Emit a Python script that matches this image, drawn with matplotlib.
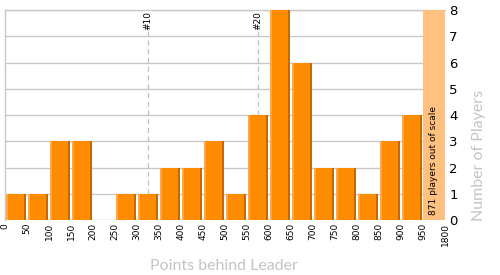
import numpy as np
import matplotlib.pyplot as plt

# bins of 50 points behind the leader, last slot is the out-of-scale bin
edge_labels = ["0", "50", "100", "150", "200", "250", "300", "350", "400", "450",
               "500", "550", "600", "650", "700", "750", "800", "850", "900", "950", "1800"]
counts = [1, 1, 3, 3, 0, 1, 1, 2, 2, 3, 1, 4, 8, 6, 2, 2, 1, 3, 4]
out_of_scale = 871
ymax = 8
# rank markers (position in points)
markers = ["#10", "#20"]
marker_pos = [325, 575]

fig = plt.figure(figsize=(5, 2.75), dpi=100)
ax = fig.add_axes([0.01, 0.2, 0.88, 0.7636])

x = np.arange(len(counts))
# bar body, left highlight, right shadow
ax.bar(x + 0.03, counts, width=0.94, align='edge', color='#ff8c00', zorder=3)
ax.bar(x + 0.03, counts, width=0.09, align='edge', color='#ffa64d', zorder=4)
ax.bar(x + 0.85, counts, width=0.12, align='edge', color='#c46a00', zorder=4)

# out of scale bin
last = len(counts)
ax.bar(last, ymax, width=1, align='edge', color='#ffc080', zorder=3)
ax.text(last + 0.5, 0.2, f"{out_of_scale} players out of scale", rotation=90,
        ha='center', va='bottom', fontsize=6.5, zorder=5)

for lab, pos in zip(markers, marker_pos):
    xp = pos / 50
    ax.axvline(xp, color='#c0c0c0', lw=0.9, ls=(0, (4, 3)), zorder=2)
    ax.text(xp, ymax - 0.05, lab, rotation=90, ha='center', va='top',
            fontsize=6.5, zorder=5, bbox=dict(fc='white', ec='none', pad=0.5))

ax.set_xlim(0, last + 1)
ax.set_ylim(0, ymax)
ax.set_yticks(range(ymax + 1))
ax.yaxis.tick_right()
ax.tick_params(axis='y', length=0, labelsize=9.5, pad=3)
ax.set_xticks(range(len(edge_labels)))
ax.set_xticklabels(edge_labels, rotation=90, fontsize=6.5)
ax.tick_params(axis='x', length=0, pad=2)
ax.grid(axis='y', color='#c8c8c8', lw=1, zorder=0)

for s in ['right', 'bottom']:
    ax.spines[s].set_visible(False)
for s in ['left', 'top']:
    ax.spines[s].set_color('#c8c8c8')
    ax.spines[s].set_linewidth(1)

fig.text(0.448, 0.018, "Points behind Leader", ha='center', va='baseline',
         fontsize=11.5, color='#c4c4c4', family='Lato')
fig.text(0.958, 0.433, "Number of Players", ha='center', va='center', rotation=90,
         fontsize=11.5, color='#c4c4c4', family='Lato')

fig.savefig("out.png", dpi=100)
